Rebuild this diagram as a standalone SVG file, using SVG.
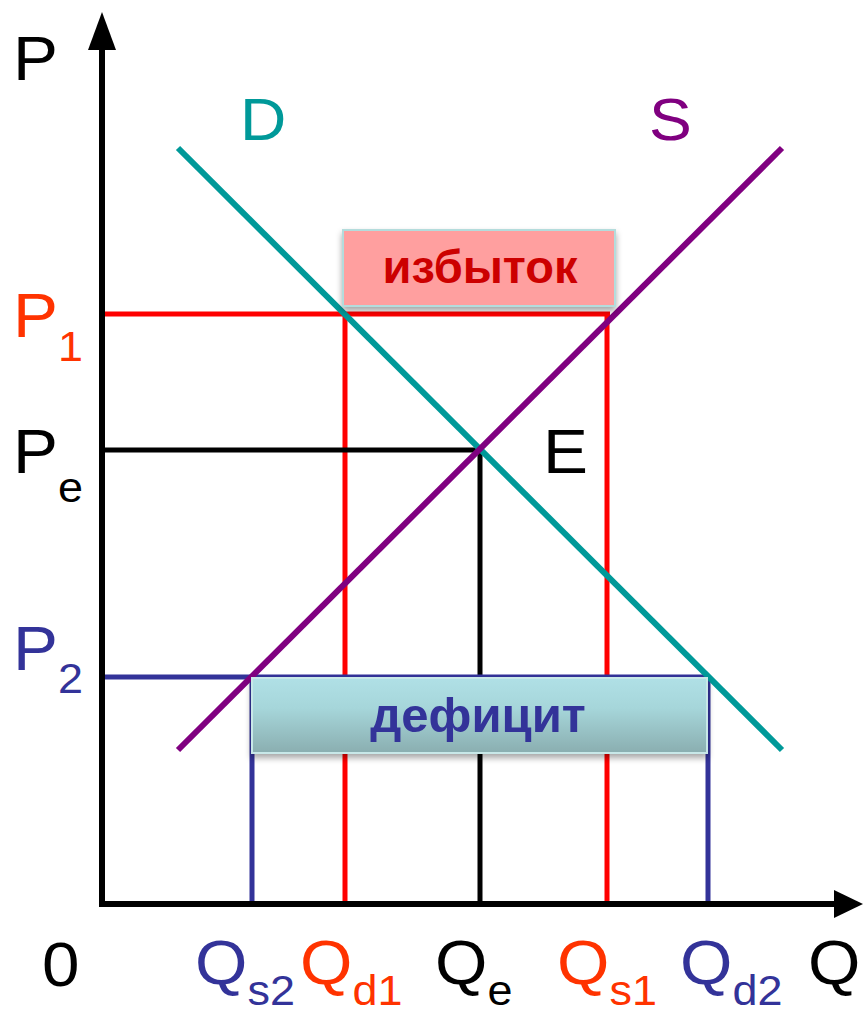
<svg xmlns="http://www.w3.org/2000/svg" width="864" height="1014" viewBox="0 0 864 1014">
<style>
.lbl{font-family:"Liberation Sans",Arial,sans-serif;font-size:63px}
.sub{font-size:42px}
.box-t{font-family:"Liberation Sans",Arial,sans-serif;font-weight:bold;text-anchor:middle}
.ax{stroke:#000;stroke-width:6;fill:none}
.red{stroke:#FF0000;stroke-width:5;fill:none}
.blk{stroke:#000;stroke-width:5;fill:none}
.blu{stroke:#333399;stroke-width:5;fill:none}
</style>
<defs>
<linearGradient id="gdef" x1="0" y1="0" x2="0" y2="1">
<stop offset="0" stop-color="#B0E0E6"/>
<stop offset="0.4" stop-color="#A6D6DA"/>
<stop offset="1" stop-color="#8AAEB0"/>
</linearGradient>
<filter id="sh" x="-10%" y="-20%" width="120%" height="160%">
<feDropShadow dx="0" dy="4" stdDeviation="3" flood-color="#000" flood-opacity="0.35"/>
</filter>
</defs>
<g id="connectors">
<line class="red" x1="102" y1="314" x2="610" y2="314"/>
<line class="red" x1="345" y1="314" x2="345" y2="905"/>
<line class="red" x1="607" y1="314" x2="607" y2="905"/>
<line class="blk" x1="102" y1="450" x2="482" y2="450"/>
<line class="blk" x1="480" y1="450" x2="480" y2="905"/>
<line class="blu" x1="102" y1="677" x2="708" y2="677"/>
<line class="blu" x1="252" y1="677" x2="252" y2="905"/>
<line class="blu" x1="708" y1="677" x2="708" y2="905"/>
<line id="demand" x1="178" y1="148" x2="782" y2="750" stroke="#009999" stroke-width="6"/>
<line id="supply" x1="178" y1="750" x2="782" y2="148" stroke="#800080" stroke-width="6"/>
</g>
<g id="axes">
<polyline class="ax" points="102,45 102,904 840,904"/>
<polygon points="102,12 88,50 116,50" fill="#000"/>
<polygon points="863,904 834,890 834,918" fill="#000"/>
</g>
<g id="surplus">
<rect x="343" y="230" width="272" height="76" fill="#FF9F9F" stroke="#B4DCDC" stroke-width="2" filter="url(#sh)"/>
<text class="box-t" x="480" y="283" font-size="47" fill="#CC0000">избыток</text>
</g>
<g id="deficit">
<rect x="252" y="678" width="455" height="75" fill="url(#gdef)" stroke="#C8E8E8" stroke-width="2" filter="url(#sh)"/>
<text class="box-t" x="478" y="732" font-size="49" fill="#333399">дефицит</text>
</g>
<g id="labels" class="lbl">
<text transform="translate(13,80) scale(1.07,1)">P</text>
<text transform="translate(240,140) scale(1.07,1)" font-size="60" fill="#009999">D</text>
<text transform="translate(649,140) scale(1.07,1)" font-size="60" fill="#800080">S</text>
<text transform="translate(543,473) scale(1.07,1)">E</text>
<text transform="translate(13,337) scale(1.07,1)" fill="#FF3300">P<tspan class="sub" dy="24">1</tspan></text>
<text transform="translate(13,473) scale(1.07,1)">P<tspan class="sub" dy="29">e</tspan></text>
<text transform="translate(13,670) scale(1.07,1)" fill="#333399">P<tspan class="sub" dy="23">2</tspan></text>
<text transform="translate(42,986) scale(1.07,1)">0</text>
<text transform="translate(195,984) scale(1.07,1)" fill="#333399">Q<tspan class="sub" dy="21">s2</tspan></text>
<text transform="translate(300,984) scale(1.07,1)" fill="#FF3300">Q<tspan class="sub" dy="21">d1</tspan></text>
<text transform="translate(435,984) scale(1.07,1)">Q<tspan class="sub" dy="21">e</tspan></text>
<text transform="translate(557,984) scale(1.07,1)" fill="#FF3300">Q<tspan class="sub" dy="21">s1</tspan></text>
<text transform="translate(680,984) scale(1.07,1)" fill="#333399">Q<tspan class="sub" dy="21">d2</tspan></text>
<text transform="translate(808,984) scale(1.07,1)">Q</text>
</g>
</svg>
